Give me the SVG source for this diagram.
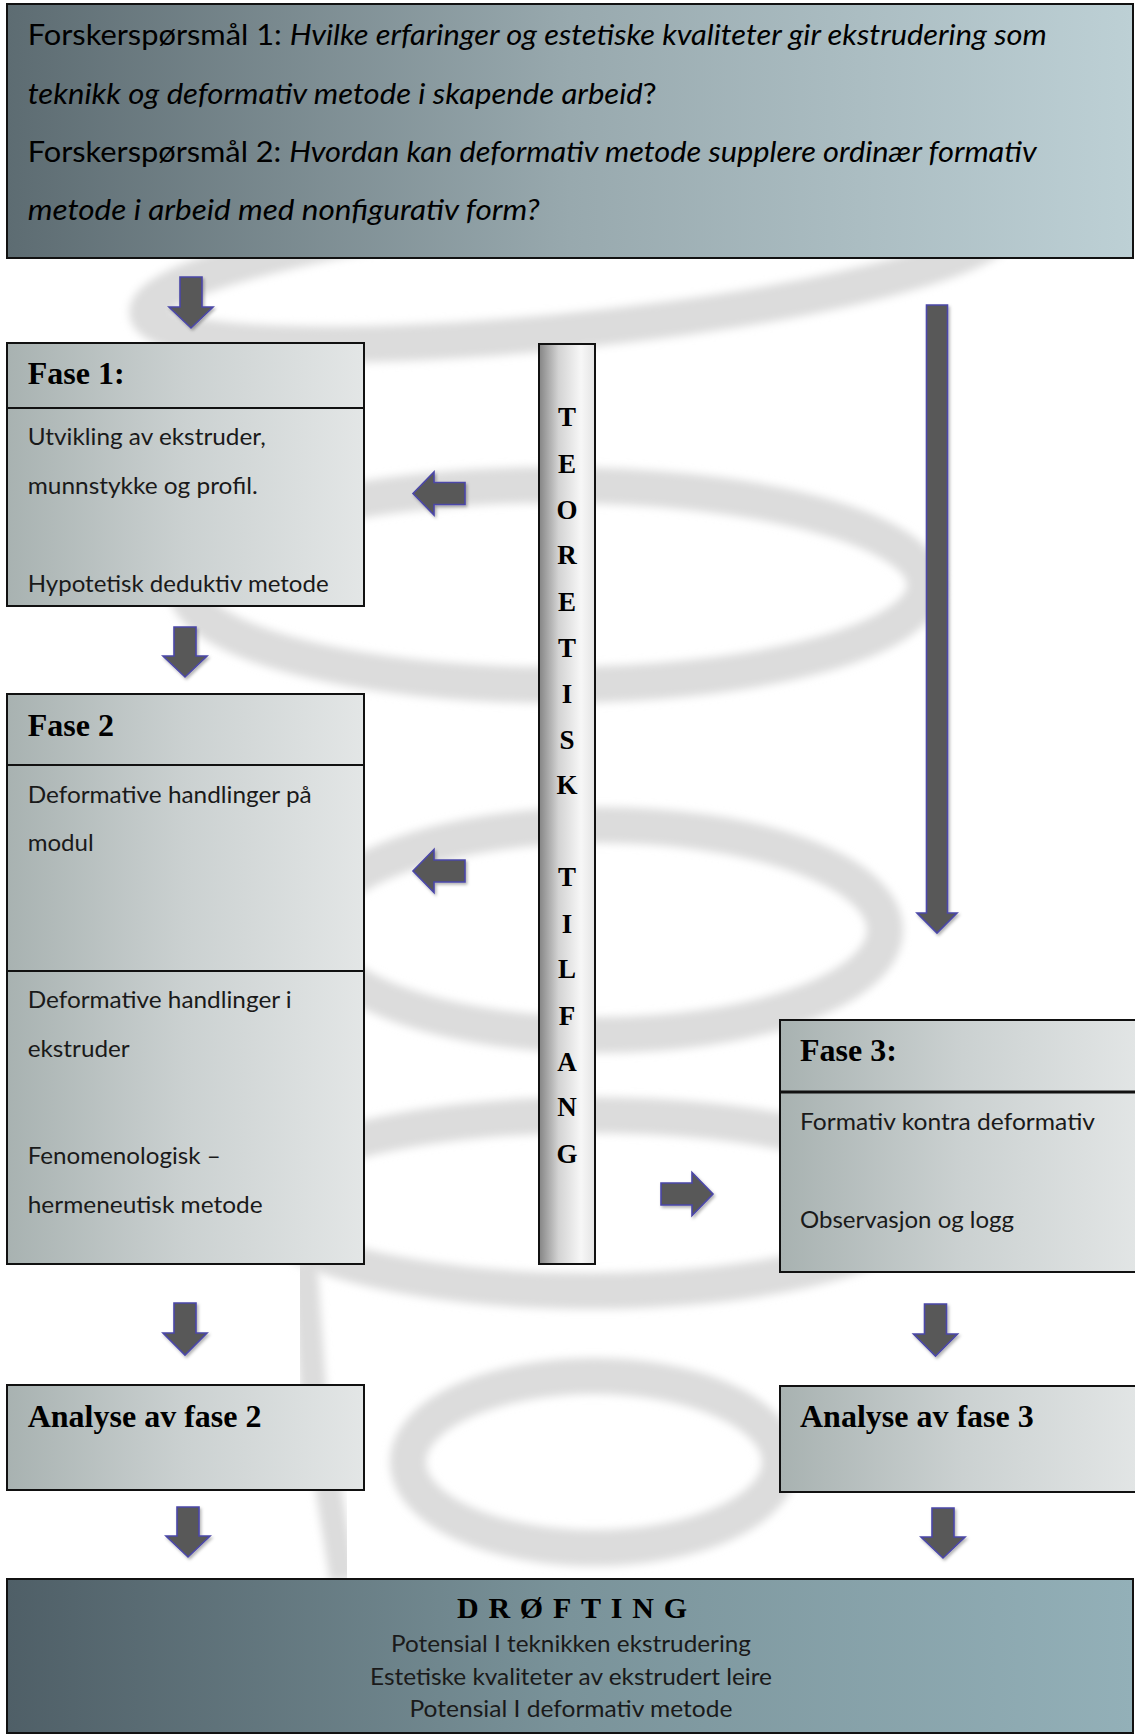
<svg xmlns="http://www.w3.org/2000/svg" width="1135" height="1735" viewBox="0 0 1135 1735">
<defs>
<style>
.coil{fill:none;stroke:#dcdcdc;stroke-width:36;filter:url(#blur)}
.box{stroke:#111;stroke-width:2}
.div{stroke:#111;stroke-width:2}
.hdr{font-family:"Liberation Serif","Times New Roman",serif;font-weight:bold;font-size:32px;fill:#000}
.body{font-family:Lato,"Open Sans",sans-serif;font-size:24px;fill:#1a1a1a}
.q{font-family:Lato,"Open Sans",sans-serif;font-size:29px;fill:#000}
.it{font-style:italic}
.col{font-family:"Liberation Serif","Times New Roman",serif;font-weight:bold;font-size:27px;fill:#000;text-anchor:middle}
.arrow{fill:#595959;stroke:#4b47a8;stroke-width:1.6;filter:url(#shadow)}
</style>
<filter id="blur" x="-10%" y="-30%" width="120%" height="160%"><feGaussianBlur stdDeviation="4.5"/></filter>
<filter id="shadow" x="-40%" y="-40%" width="180%" height="180%"><feDropShadow dx="1.5" dy="2" stdDeviation="1.5" flood-color="#000" flood-opacity="0.3"/></filter>
<linearGradient id="gPhase" x1="0" y1="0" x2="1" y2="0"><stop offset="0" stop-color="#a8b2b1"/><stop offset="0.5" stop-color="#cbd1d1"/><stop offset="1" stop-color="#e3e6e6"/></linearGradient>
<linearGradient id="gTop" x1="0" y1="0" x2="1" y2="0"><stop offset="0" stop-color="#5d6c72"/><stop offset="0.5" stop-color="#98a9ae"/><stop offset="1" stop-color="#bdd0d5"/></linearGradient>
<linearGradient id="gBottom" x1="0" y1="0" x2="1" y2="0"><stop offset="0" stop-color="#4f5f67"/><stop offset="0.5" stop-color="#7a939a"/><stop offset="1" stop-color="#93b0b8"/></linearGradient>
<linearGradient id="gCol" x1="0" y1="0" x2="1" y2="0"><stop offset="0" stop-color="#848484"/><stop offset="0.35" stop-color="#d3d3d3"/><stop offset="0.75" stop-color="#f7f7f7"/><stop offset="1" stop-color="#e4e4e4"/></linearGradient>
</defs>
<rect width="1135" height="1735" fill="#fff"/>
<g id="background-coil">
<ellipse class="coil" cx="575" cy="268" rx="430" ry="62" transform="rotate(-6 575 268)"/>
<ellipse class="coil" cx="555" cy="585" rx="370" ry="100"/>
<ellipse class="coil" cx="600" cy="930" rx="285" ry="105"/>
<ellipse class="coil" cx="590" cy="1203" rx="330" ry="88"/>
<ellipse class="coil" cx="594" cy="1462" rx="186" ry="86"/>
<path class="coil" style="stroke-width:26" d="M304,1262 L314,1400 L343,1580"/>
</g>
<g id="connectors">
<path class="arrow" d="M180,277 H202 V307 H213 L191,328 L169,307 H180 Z"/>
<path class="arrow" d="M174,627 H196 V656 H207 L185,677 L163,656 H174 Z"/>
<path class="arrow" d="M926.5,305 H947.5 V913 H957 L937,933 L917,913 H926.5 Z"/>
<path class="arrow" d="M465,482.5 V504.5 H434 V515 L413,493.5 L434,472 V482.5 Z"/>
<path class="arrow" d="M465,860 V882 H434 V892.5 L413,871 L434,849.5 V860 Z"/>
<path class="arrow" d="M661,1183 H692 V1172.5 L713,1194 L692,1215.5 V1205 H661 Z"/>
<path class="arrow" d="M174,1303 H196 V1333 H207 L185,1355 L163,1333 H174 Z"/>
<path class="arrow" d="M924.5,1304 H946.5 V1334 H957.5 L935.5,1356 L913.5,1334 H924.5 Z"/>
<path class="arrow" d="M177,1507 H199 V1536 H210 L188,1557 L166,1536 H177 Z"/>
<path class="arrow" d="M932,1508 H954 V1537 H965 L943,1558 L921,1537 H932 Z"/>
</g>
<g id="node-questions">
<rect class="box" x="7" y="4" width="1126" height="254" fill="url(#gTop)"/>
<text class="q" x="27.7" y="45" textLength="1019" lengthAdjust="spacingAndGlyphs">Forskerspørsmål 1: <tspan class="it">Hvilke erfaringer og estetiske kvaliteter gir ekstrudering som</tspan></text>
<text class="q" x="27.7" y="104" textLength="629" lengthAdjust="spacingAndGlyphs"><tspan class="it">teknikk og deformativ metode i skapende arbeid</tspan>?</text>
<text class="q" x="27.7" y="162" textLength="1009" lengthAdjust="spacingAndGlyphs">Forskerspørsmål 2: <tspan class="it">Hvordan kan deformativ metode supplere ordinær formativ</tspan></text>
<text class="q it" x="27.7" y="220" textLength="512" lengthAdjust="spacingAndGlyphs">metode i arbeid med nonfigurativ form?</text>
</g>
<g id="node-fase1">
<rect class="box" x="7" y="343" width="357" height="263" fill="url(#gPhase)"/>
<line class="div" x1="7" y1="408" x2="364" y2="408"/>
<text class="hdr" x="27.7" y="384">Fase 1:</text>
<text class="body" x="27.7" y="445" textLength="238" lengthAdjust="spacingAndGlyphs">Utvikling av ekstruder,</text>
<text class="body" x="27.7" y="493.5" textLength="230" lengthAdjust="spacingAndGlyphs">munnstykke og profil.</text>
<text class="body" x="27.7" y="592" textLength="301" lengthAdjust="spacingAndGlyphs">Hypotetisk deduktiv metode</text>
</g>
<g id="node-teoretisk-tilfang">
<rect class="box" x="539" y="344" width="56" height="920" fill="url(#gCol)"/>
<text class="col" x="567" y="426">T</text>
<text class="col" x="567" y="472.5">E</text>
<text class="col" x="567" y="519">O</text>
<text class="col" x="567" y="564">R</text>
<text class="col" x="567" y="611">E</text>
<text class="col" x="567" y="657">T</text>
<text class="col" x="567" y="702.5">I</text>
<text class="col" x="567" y="749">S</text>
<text class="col" x="567" y="794">K</text>
<text class="col" x="567" y="886">T</text>
<text class="col" x="567" y="933">I</text>
<text class="col" x="567" y="978">L</text>
<text class="col" x="567" y="1024.5">F</text>
<text class="col" x="567" y="1071">A</text>
<text class="col" x="567" y="1116">N</text>
<text class="col" x="567" y="1163">G</text>
</g>
<g id="node-fase2">
<rect class="box" x="7" y="694" width="357" height="570" fill="url(#gPhase)"/>
<line class="div" x1="7" y1="765" x2="364" y2="765"/>
<line class="div" x1="7" y1="971" x2="364" y2="971"/>
<text class="hdr" x="27.7" y="735.5">Fase 2</text>
<text class="body" x="27.7" y="803" textLength="284" lengthAdjust="spacingAndGlyphs">Deformative handlinger på</text>
<text class="body" x="27.7" y="851" textLength="66" lengthAdjust="spacingAndGlyphs">modul</text>
<text class="body" x="27.7" y="1008" textLength="264" lengthAdjust="spacingAndGlyphs">Deformative handlinger i</text>
<text class="body" x="27.7" y="1056.6" textLength="102" lengthAdjust="spacingAndGlyphs">ekstruder</text>
<text class="body" x="27.7" y="1164" textLength="193" lengthAdjust="spacingAndGlyphs">Fenomenologisk –</text>
<text class="body" x="27.7" y="1212.6" textLength="235" lengthAdjust="spacingAndGlyphs">hermeneutisk metode</text>
</g>
<g id="node-fase3">
<rect class="box" x="780" y="1020" width="365" height="252" fill="url(#gPhase)"/>
<line class="div" x1="780" y1="1092" x2="1140" y2="1092" style="stroke-width:3"/>
<text class="hdr" x="800" y="1061">Fase 3:</text>
<text class="body" x="800" y="1129.6" textLength="295" lengthAdjust="spacingAndGlyphs">Formativ kontra deformativ</text>
<text class="body" x="800" y="1228" textLength="214" lengthAdjust="spacingAndGlyphs">Observasjon og logg</text>
</g>
<g id="node-analyse2">
<rect class="box" x="7" y="1385" width="357" height="105" fill="url(#gPhase)"/>
<text class="hdr" x="27.7" y="1427">Analyse av fase 2</text>
</g>
<g id="node-analyse3">
<rect class="box" x="780" y="1386" width="365" height="106" fill="url(#gPhase)"/>
<text class="hdr" x="800" y="1427">Analyse av fase 3</text>
</g>
<g id="node-drofting">
<rect class="box" x="7" y="1579" width="1126" height="154" fill="url(#gBottom)"/>
<text class="hdr" x="457" y="1618" style="font-size:30px" textLength="230" lengthAdjust="spacing">DRØFTING</text>
<text class="body" x="391" y="1651.5" textLength="360" lengthAdjust="spacingAndGlyphs">Potensial I teknikken ekstrudering</text>
<text class="body" x="370" y="1684.5" textLength="402" lengthAdjust="spacingAndGlyphs">Estetiske kvaliteter av ekstrudert leire</text>
<text class="body" x="409.5" y="1716.5" textLength="323" lengthAdjust="spacingAndGlyphs">Potensial I deformativ metode</text>
</g>
</svg>
